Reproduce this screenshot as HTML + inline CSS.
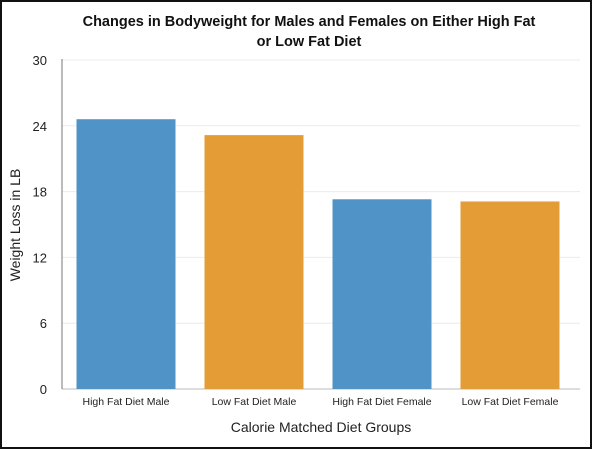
<!DOCTYPE html>
<html><head><meta charset="utf-8"><style>
html,body{margin:0;padding:0;background:#fff;}
svg{display:block;font-family:"Liberation Sans",Arial,sans-serif;}
</style></head><body>
<svg id="c" width="592" height="449" viewBox="0 0 592 449">
<rect x="1" y="1" width="590" height="447" fill="#fff" stroke="#111" stroke-width="2"/>
<text x="309" y="26" text-anchor="middle" font-size="14.5" font-weight="bold" fill="#111">Changes in Bodyweight for Males and Females on Either High Fat</text>
<text x="309" y="46" text-anchor="middle" font-size="14.5" font-weight="bold" fill="#111">or Low Fat Diet</text>
<text transform="translate(20,225) rotate(-90)" text-anchor="middle" font-size="14" fill="#222">Weight Loss in LB</text>
<text x="321" y="432" text-anchor="middle" font-size="14" fill="#222">Calorie Matched Diet Groups</text>
<g id="grid"></g><g id="bars"></g><g id="labels"></g>
<line x1="62" y1="59" x2="62" y2="389" stroke="#777" stroke-width="1"/>
</svg>
<script>
const categories=["High Fat Diet Male","Low Fat Diet Male","High Fat Diet Female","Low Fat Diet Female"];
const values=[24.6,23.15,17.3,17.1];
const colors=["#5093c6","#e49d36","#5093c6","#e49d36"];
const ticks=[0,6,12,18,24,30];
const NS="http://www.w3.org/2000/svg";
const y0=389,y1=60,x0=62,x1=574,ymax=30;
function y(v){return y0-(v/ymax)*(y0-y1);}
const band=(x1-x0)/categories.length;
function xb(i){return x0+i*band;}
function mk(t,a,p){const e=document.createElementNS(NS,t);for(const k in a)e.setAttribute(k,a[k]);p.appendChild(e);return e;}
const g=document.getElementById('grid'),b=document.getElementById('bars'),l=document.getElementById('labels');
ticks.forEach(t=>{
 const ln=mk('line',{x1:x0,x2:580,y1:y(t),y2:y(t),stroke:t===0?'#bbb':'#ececec','stroke-width':1},g);
 
 
 const tx=mk('text',{x:47,y:y(t)+5,'text-anchor':'end','font-size':13,fill:'#222'},g);
 tx.textContent=t;
 
 
});
categories.forEach((c,i)=>{
 const bw=99,bx=xb(i)+(band-bw)/2;
 const r=mk('rect',{x:bx,y:y(values[i]),width:bw,height:y0-y(values[i]),fill:colors[i]},b);
 
 
 const tx=mk('text',{x:bx+bw/2,y:405,'text-anchor':'middle','font-size':10.5,fill:'#222'},l);
 tx.textContent=c;
 
 
});
</script>
</body></html>
